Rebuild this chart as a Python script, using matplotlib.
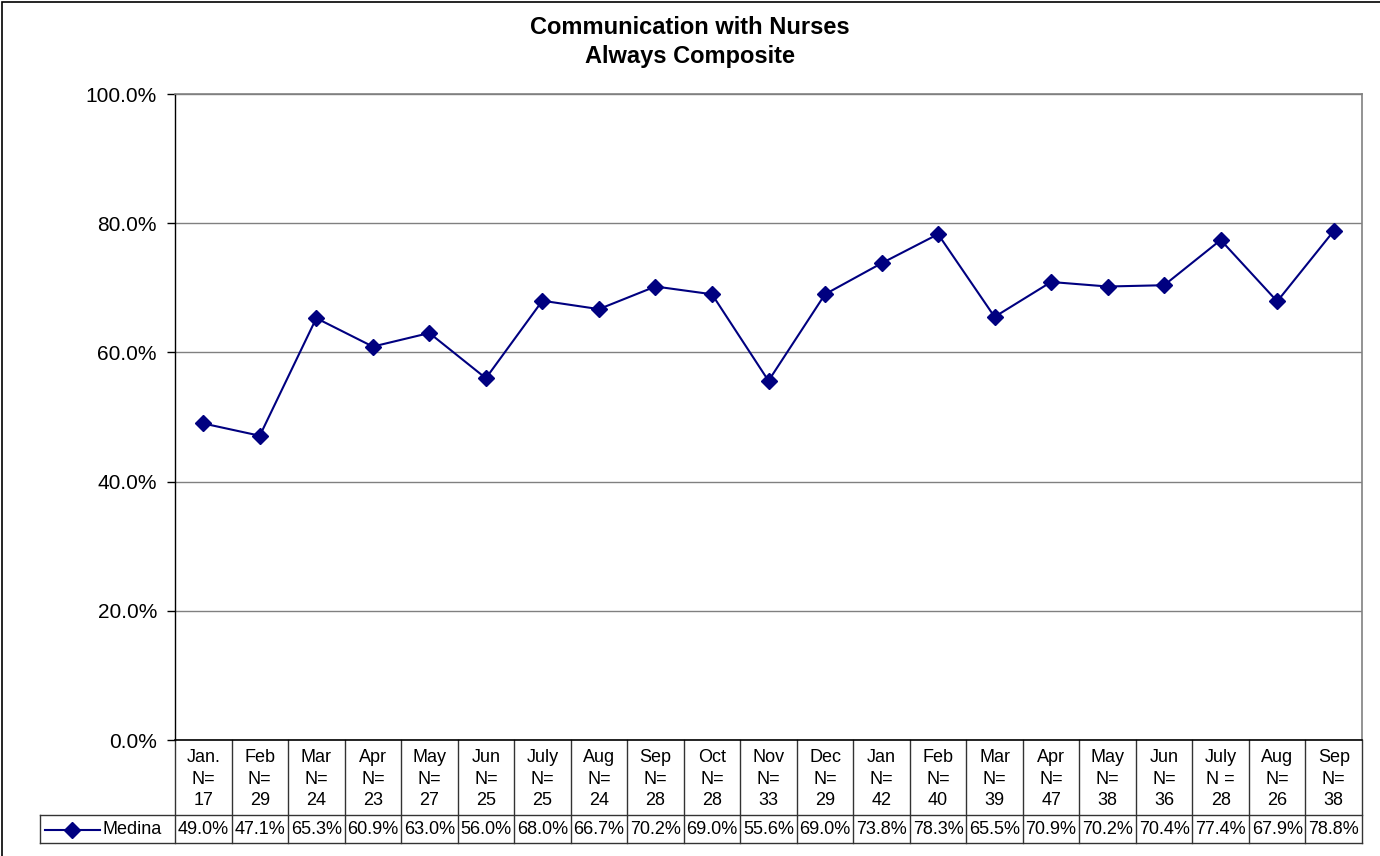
import matplotlib
matplotlib.use("Agg")
import matplotlib.pyplot as plt
import numpy as np
from matplotlib.transforms import blended_transform_factory
from matplotlib.lines import Line2D
from matplotlib.patches import Rectangle

plt.rcParams['font.family'] = ['Liberation Sans', 'DejaVu Sans']

months = ["Jan.", "Feb", "Mar", "Apr", "May", "Jun", "July", "Aug", "Sep", "Oct", "Nov",
          "Dec", "Jan", "Feb", "Mar", "Apr", "May", "Jun", "July", "Aug", "Sep"]
n_labels = ["N=", "N=", "N=", "N=", "N=", "N=", "N=", "N=", "N=", "N=", "N=",
            "N=", "N=", "N=", "N=", "N=", "N=", "N=", "N =", "N=", "N="]
n_values = [17, 29, 24, 23, 27, 25, 25, 24, 28, 28, 33, 29, 42, 40, 39, 47, 38, 36, 28, 26, 38]
medina = [49.0, 47.1, 65.3, 60.9, 63.0, 56.0, 68.0, 66.7, 70.2, 69.0, 55.6,
          69.0, 73.8, 78.3, 65.5, 70.9, 70.2, 70.4, 77.4, 67.9, 78.8]
series_name = "Medina"
yticks = [0, 20, 40, 60, 80, 100]

W, H = 1380, 856
fig = plt.figure(figsize=(W / 100, H / 100), dpi=100)
L, R, T, B = 175, 1362, 94, 740
ax = fig.add_axes([L / W, 1 - B / H, (R - L) / W, (B - T) / H])

navy = "#000080"
n = len(medina)
x = np.arange(n) + 0.5
ax.plot(x, medina, color=navy, lw=1.5, marker="D", markersize=8.5,
        markerfacecolor=navy, markeredgecolor=navy, zorder=3)

ax.set_xlim(0, n)
ax.set_ylim(0, 100)
ax.set_yticks(yticks)
ax.set_yticklabels([f"{v:.1f}%" for v in yticks], fontsize=15)
ax.set_xticks([])
ax.tick_params(axis="y", direction="out", length=6, width=1, color="black", pad=7)
ax.grid(axis="y", color="#808080", lw=1.0)
ax.set_axisbelow(True)
for s in ["top", "right"]:
    ax.spines[s].set_color("#808080")
    ax.spines[s].set_linewidth(1.2)
ax.spines["left"].set_color("black")
ax.spines["bottom"].set_color("black")
ax.spines["left"].set_linewidth(1.0)
ax.spines["bottom"].set_linewidth(1.2)

# Table below the axes
def ay(ypix):
    return (B - ypix) / (B - T)

trans = blended_transform_factory(ax.transData, ax.transAxes)
row1_bot = 815
row2_bot = 843
lc = "#333333"
for i in range(n + 1):
    ax.add_line(Line2D([i, i], [ay(B), ay(row2_bot)], transform=trans, color=lc,
                       lw=1.0, clip_on=False))

def fx(xpix):
    return xpix / W

legend_left = 40
for yp in [row1_bot, row2_bot]:
    ax.add_line(Line2D([fx(legend_left), fx(R)], [1 - yp / H, 1 - yp / H],
                       transform=fig.transFigure, color=lc, lw=1.0, clip_on=False))
ax.add_line(Line2D([fx(legend_left), fx(legend_left)], [1 - row1_bot / H, 1 - row2_bot / H],
                   transform=fig.transFigure, color=lc, lw=1.0, clip_on=False))

tfs = 13
for i in range(n):
    ax.text(x[i], ay(779), f"{months[i]}\n{n_labels[i]}\n{n_values[i]}", transform=trans,
            ha="center", va="center", fontsize=tfs, linespacing=1.33, clip_on=False)
    ax.text(x[i], ay(830), f"{medina[i]:.1f}%", transform=trans,
            ha="center", va="center", fontsize=tfs, clip_on=False)

# legend key in table
fig.add_artist(Line2D([fx(45), fx(100)], [1 - 830 / H, 1 - 830 / H], color=navy, lw=1.5))
fig.add_artist(Line2D([fx(72)], [1 - 830 / H], color=navy, marker="D", markersize=8.5,
                      markerfacecolor=navy, markeredgecolor=navy, lw=0))
fig.text(fx(102), 1 - 830 / H, series_name, ha="left", va="center", fontsize=tfs)

# Title
fig.text(0.5, 1 - 27 / H, "Communication with Nurses", ha="center", va="center",
         fontsize=17, fontweight="bold")
fig.text(0.5, 1 - 57 / H, "Always Composite", ha="center", va="center",
         fontsize=17, fontweight="bold")

# Figure border (top and left visible)
fig.add_artist(Rectangle((2 / W, -0.01), 1.1, 1 - 1.5 / H + 0.01, transform=fig.transFigure,
                         fill=False, edgecolor="black", lw=1.2))

fig.savefig("out.png", dpi=100)
